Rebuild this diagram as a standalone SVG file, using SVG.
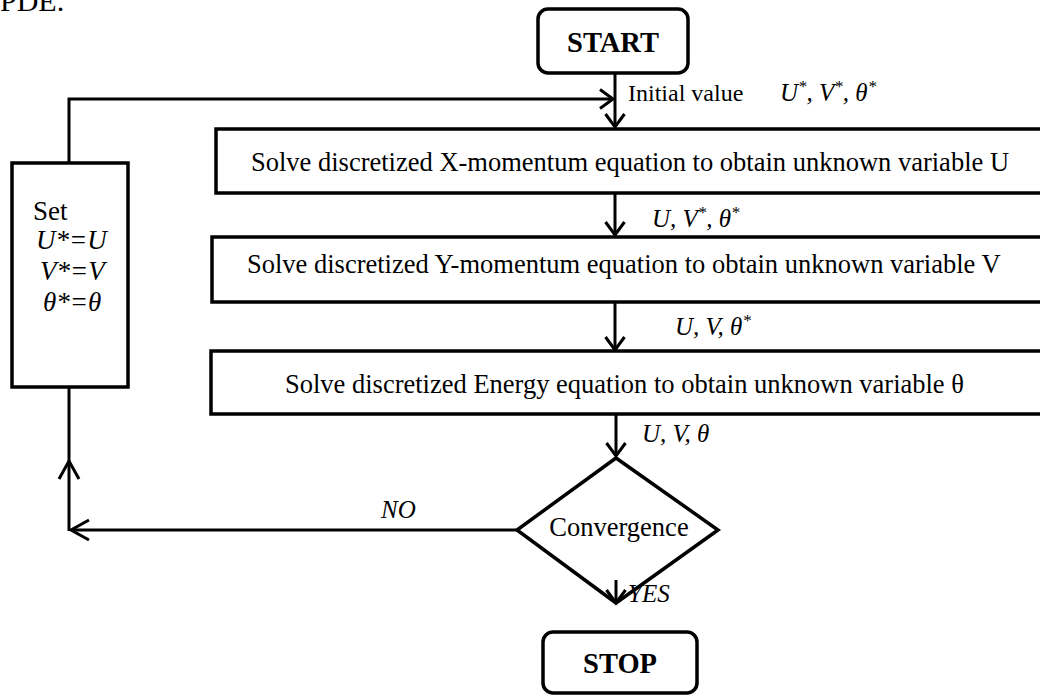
<svg xmlns="http://www.w3.org/2000/svg" width="1040" height="695" viewBox="0 0 1040 695">
  <style>
    .box { fill: #fff; stroke: #000; stroke-width: 3.5; }
    .ln { fill: none; stroke: #000; stroke-width: 3; }
    .t { font-family: "Liberation Serif", "Times New Roman", serif; fill: #000; }
    .b { font-weight: bold; }
    .i { font-style: italic; }
  </style>
  <defs>
    <marker id="ah" viewBox="-16 -12 18 24" markerWidth="18" markerHeight="24" refX="0" refY="0" orient="auto" markerUnits="userSpaceOnUse" overflow="visible">
      <path d="M-13,-9.5 L0,0 L-13,9.5" fill="none" stroke="#000" stroke-width="3"/>
    </marker>
    <marker id="ahl" viewBox="-22 -12 24 24" markerWidth="24" markerHeight="24" refX="0" refY="0" orient="auto" markerUnits="userSpaceOnUse" overflow="visible">
      <path d="M-18,-10 L0,0 L-18,10" fill="none" stroke="#000" stroke-width="3"/>
    </marker>
  </defs>

  <text class="t" x="0" y="11" font-size="30">PDE.</text>

  <g id="connectors">
    <line class="ln" x1="615" y1="73" x2="615" y2="127" marker-end="url(#ah)"/>
    <path class="ln" d="M69,163 L69,99 L613,99" marker-end="url(#ah)"/>
    <line class="ln" x1="615" y1="193" x2="615" y2="235" marker-end="url(#ah)"/>
    <line class="ln" x1="615" y1="302" x2="615" y2="350" marker-end="url(#ah)"/>
    <line class="ln" x1="616" y1="414" x2="616" y2="456" marker-end="url(#ah)"/>
    <line class="ln" x1="616" y1="580" x2="616" y2="603" marker-end="url(#ah)"/>
    <path class="ln" d="M517,530 L71,530" marker-end="url(#ahl)"/>
    <line class="ln" x1="69" y1="531" x2="69" y2="461" marker-end="url(#ahl)"/>
    <line class="ln" x1="69" y1="461" x2="69" y2="387"/>
    <text class="t" font-size="24" x="628" y="101">Initial value</text>
    <text class="t i" font-size="25" x="780" y="101">U<tspan font-size="17" dy="-9">*</tspan><tspan dy="9">, V</tspan><tspan font-size="17" dy="-9">*</tspan><tspan dy="9">, θ</tspan><tspan font-size="17" dy="-9">*</tspan></text>
    <text class="t i" font-size="25" x="652" y="227">U, V<tspan font-size="17" dy="-9">*</tspan><tspan dy="9">, θ</tspan><tspan font-size="17" dy="-9">*</tspan></text>
    <text class="t i" font-size="25" x="675" y="335">U,  V, θ<tspan font-size="17" dy="-9">*</tspan></text>
    <text class="t i" font-size="25" x="642" y="442">U,  V, θ</text>
    <text class="t i" font-size="25" x="381" y="518">NO</text>
    <text class="t i" font-size="25" x="628" y="602">YES</text>
  </g>

  <g id="start">
    <rect class="box" x="538" y="9" width="150" height="64" rx="10"/>
    <text class="t b" font-size="28.5" x="613" y="52" text-anchor="middle">START</text>
  </g>

  <g id="setbox">
    <rect class="box" x="12" y="163" width="116" height="224"/>
    <text class="t" font-size="27" x="33" y="220">Set</text>
    <text class="t i" font-size="27" x="36" y="249">U*=U</text>
    <text class="t i" font-size="27" x="40" y="280">V*=V</text>
    <text class="t i" font-size="27" x="43" y="311">θ*=θ</text>
  </g>

  <g id="xmom">
    <rect class="box" x="216" y="129" width="840" height="64"/>
    <text class="t" font-size="26.5" x="251" y="171">Solve discretized X-momentum equation to obtain unknown variable U</text>
  </g>

  <g id="ymom">
    <rect class="box" x="212" y="237" width="840" height="65"/>
    <text class="t" font-size="26.5" x="247" y="273">Solve discretized Y-momentum equation to obtain unknown variable V</text>
  </g>

  <g id="energy">
    <rect class="box" x="211" y="351" width="840" height="63"/>
    <text class="t" font-size="26.5" x="285" y="393">Solve discretized Energy equation to obtain unknown variable θ</text>
  </g>

  <g id="convergence">
    <polygon class="box" points="616,458 718,530 616,603 517,530" style="fill:none"/>
    <text class="t" font-size="26.5" x="619" y="536" text-anchor="middle">Convergence</text>
  </g>

  <g id="stop">
    <rect class="box" x="543" y="632" width="154" height="61" rx="10"/>
    <text class="t b" font-size="28.5" x="620" y="673" text-anchor="middle">STOP</text>
  </g>
</svg>
